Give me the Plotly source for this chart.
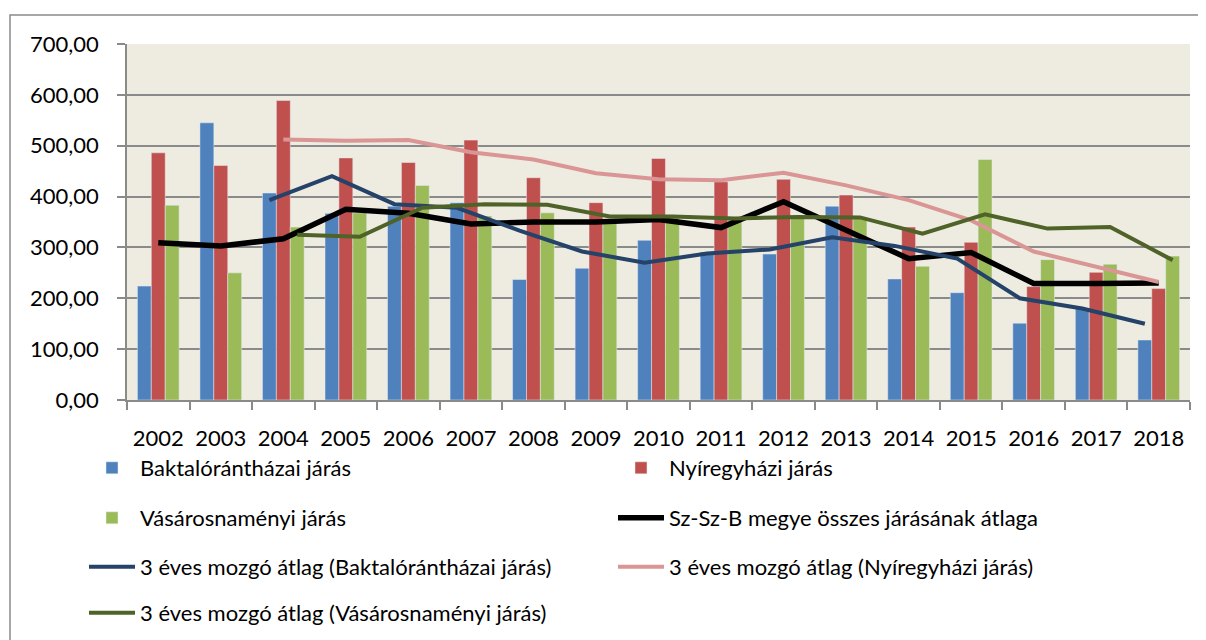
import plotly.graph_objects as go

# ---- data ----
years = ["2002", "2003", "2004", "2005", "2006", "2007", "2008", "2009", "2010",
         "2011", "2012", "2013", "2014", "2015", "2016", "2017", "2018"]
baktal = [224, 545, 407, 367, 381, 388, 237, 259, 314, 291, 287, 381, 238, 211, 151, 180, 118]
nyir = [486, 461, 589, 476, 467, 511, 437, 388, 475, 429, 434, 403, 340, 310, 223, 251, 219]
vasar = [383, 250, 340, 368, 422, 362, 368, 352, 360, 358, 361, 357, 263, 473, 276, 267, 283]
county = [309, 303, 317, 375, 367, 346, 350, 350, 355, 339, 390, 333, 278, 290, 229, 229, 230]
ma_baktal = [None, None, 393, 440, 385, 378, 333, 292, 270, 288, 296, 320, 303, 278, 200, 180, 150]
ma_nyir = [None, None, 512, 510, 511, 487, 473, 446, 434, 432, 447, 422, 393, 353, 292, 262, 232]
ma_vasar = [None, None, 325, 321, 378, 385, 384, 361, 361, 357, 360, 359, 327, 365, 337, 340, 275]

names = ["Baktalórántházai járás", "Nyíregyházi járás", "Vásárosnaményi járás",
         "Sz-Sz-B megye összes járásának átlaga",
         "3 éves mozgó átlag (Baktalórántházai járás)",
         "3 éves mozgó átlag (Nyíregyházi járás)",
         "3 éves mozgó átlag (Vásárosnaményi járás)"]

# ---- styling ----
FONT = "Lato"
FS = 22
GRID = "#8a8a8a"
BARGAP = 0.333
BW = (1 - BARGAP) / 3  # width of one bar in category units
idx = list(range(len(years)))

OFF = 8  # page body margin in the browser
W, H = 1206, 640
L, R, T, B = 127 - OFF, 24, 44 - OFF, 248
pw, ph = W - L - R, H - T - B


def px(xs):  # screen pixel -> paper x
    return (xs - OFF - L) / pw


def py(ys):  # screen pixel -> paper y
    return (H - B - (ys - OFF)) / ph


def cx(xs):  # screen pixel -> container x
    return (xs - OFF) / W


def cy(ys):  # screen pixel -> container y
    return 1 - (ys - OFF) / H


fig = go.Figure()
fig.add_trace(go.Bar(x=idx, y=baktal, name=names[0], marker_color="#4F81BD",
                     legend="legend"))
fig.add_trace(go.Bar(x=idx, y=nyir, name=names[1], marker_color="#C0504D",
                     legend="legend"))
fig.add_trace(go.Bar(x=idx, y=vasar, name=names[2], marker_color="#9BBB59",
                     legend="legend2"))
fig.add_trace(go.Scatter(x=idx, y=county, name=names[3], mode="lines",
                         line=dict(color="#000000", width=5.5), legend="legend2"))
fig.add_trace(go.Scatter(x=[i - BW for i in idx], y=ma_baktal, name=names[4], mode="lines",
                         line=dict(color="#254268", width=4), legend="legend3"))
fig.add_trace(go.Scatter(x=idx, y=ma_nyir, name=names[5], mode="lines",
                         line=dict(color="#DA9694", width=4), legend="legend3"))
fig.add_trace(go.Scatter(x=[i + BW for i in idx], y=ma_vasar, name=names[6], mode="lines",
                         line=dict(color="#4F6228", width=4), legend="legend4"))

leg_common = dict(orientation="h", xanchor="left", yanchor="middle",
                  xref="container", yref="container",
                  entrywidth=468, entrywidthmode="pixels", itemwidth=46,
                  font=dict(family=FONT, size=FS, color="#000000"),
                  bgcolor="rgba(0,0,0,0)", traceorder="normal", itemclick=False)
legx = cx(84)
fig.update_layout(
    legend=dict(x=legx, y=cy(468), **leg_common),
    legend2=dict(x=legx, y=cy(518), **leg_common),
    legend3=dict(x=legx, y=cy(567), **leg_common),
    legend4=dict(x=legx, y=cy(613), **leg_common),
)

fig.update_layout(
    width=W, height=H,
    margin=dict(l=L, r=R, t=T, b=B, autoexpand=False),
    barmode="group", bargap=BARGAP, bargroupgap=0,
    plot_bgcolor="#EEECE1", paper_bgcolor="#FFFFFF",
    separators=", ",
    font=dict(family=FONT, size=FS, color="#000000"),
    xaxis=dict(range=[-0.5, len(years) - 0.5], tickmode="array", tickvals=idx,
               ticktext=years, ticks="outside", ticklen=18, tickcolor="rgba(0,0,0,0)",
               showgrid=False, zeroline=False, showline=True, linecolor=GRID, linewidth=1.5,
               automargin=False,
               tickfont=dict(family=FONT, size=FS, color="#000000"),
               minor=dict(ticks="outside", ticklen=8, tickcolor=GRID, tickwidth=1.5,
                          tick0=-0.5, dtick=1, showgrid=False)),
    yaxis=dict(range=[0, 700], dtick=100, tickformat=".2f", ticks="outside", ticklen=8,
               tickcolor=GRID, tickwidth=1.5, showgrid=True, gridcolor=GRID, gridwidth=1.6,
               zeroline=False, showline=True, linecolor=GRID, linewidth=1.5,
               ticklabelstandoff=14, automargin=False,
               tickfont=dict(family=FONT, size=FS, color="#000000")),
    shapes=[dict(type="rect", xref="paper", yref="paper",
                 x0=px(10), x1=px(1205), y0=py(660), y1=py(15),
                 line=dict(color="#8a8a8a", width=1.5), fillcolor="rgba(0,0,0,0)",
                 layer="below")],
)

fig.write_html("out.html")
